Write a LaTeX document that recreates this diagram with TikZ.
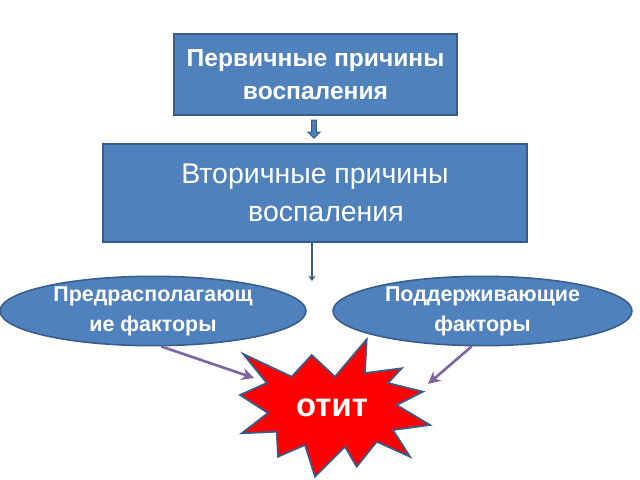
\documentclass[tikz,border=0pt]{standalone}
\usepackage{fontspec}
\setmainfont{Liberation Sans}
\usetikzlibrary{shapes.geometric,shapes.arrows,arrows.meta}
\definecolor{boxblue}{HTML}{4F81BD}
\definecolor{boxline}{HTML}{385D8A}
\definecolor{arrpurple}{HTML}{8064A2}
\tikzset{
  bluebox/.style={draw=boxline, line width=0.9pt, fill=boxblue, text=white, align=center, inner sep=0pt},
  factor/.style={ellipse, draw=boxline, line width=0.9pt, fill=boxblue, text=white, align=center, inner sep=0pt, font=\bfseries\fontsize{12.2}{17}\selectfont},
  purplearr/.style={draw=arrpurple, line width=1.5pt, -{Stealth[length=7pt,width=7pt]}},
}
\begin{document}
\begin{tikzpicture}[x=0.02cm,y=-0.02cm]
\useasboundingbox (0,0) rectangle (640,480);
% top box
\node[bluebox, minimum width=5.66cm, minimum height=1.62cm, font=\bfseries\fontsize{14}{19}\selectfont] (p) at (315.5,74.5) {Первичные причины\\воспаления};
% small block arrow
\node[single arrow, draw=boxline, fill=boxblue, line width=0.6pt, shape border rotate=270, minimum height=0.36cm, minimum width=0.24cm, single arrow head extend=0.06cm, inner sep=0.03cm] (a1) at (314,128) {};
% second box
\node[bluebox, minimum width=8.48cm, minimum height=1.96cm, font=\fontsize{16.2}{22}\selectfont] (v) at (315,193) {Вторичные причины\\\hspace*{0.44cm}воспаления};
% line down
\coordinate (vend) at (312,281);
\draw[draw=boxline, line width=1.6pt, -{Stealth[length=3pt,width=4pt]}] (v.south -| vend) -- (vend);
% ellipses
\node[factor, minimum width=6.12cm, minimum height=1.36cm] (l) at (153,311) {Предрасполагающ\\ие факторы};
\node[factor, minimum width=5.98cm, minimum height=1.36cm] (r) at (482.5,311) {Поддерживающие\\факторы};
% star
\draw[draw=boxline, line width=1pt, fill=red, line join=miter]
 (366.7,339.3) -- (365,373) -- (401.7,368.3) -- (388,383) -- (423,391.7) -- (396.7,405)
 -- (430,425) -- (393,430) -- (410,456.7) -- (376.7,441.7) -- (356.7,466.7) -- (345,446.7)
 -- (315,476.7) -- (305,445) -- (278,456.7) -- (276.7,431.7) -- (241.7,433.3) -- (268,413)
 -- (240,395) -- (266.7,383) -- (243.3,354) -- (291.7,376.7) -- (311.7,355) -- (335,376.7) -- cycle;
\node[text=white, font=\bfseries\fontsize{18.7}{22}\selectfont] (o) at (332,408) {отит};
% arrows to star
\coordinate (s1) at (254,378);
\coordinate (s2) at (428,384);
\draw[purplearr] (l.283) -- (s1);
\draw[purplearr] (r.253) -- (s2);
\end{tikzpicture}
\end{document}
